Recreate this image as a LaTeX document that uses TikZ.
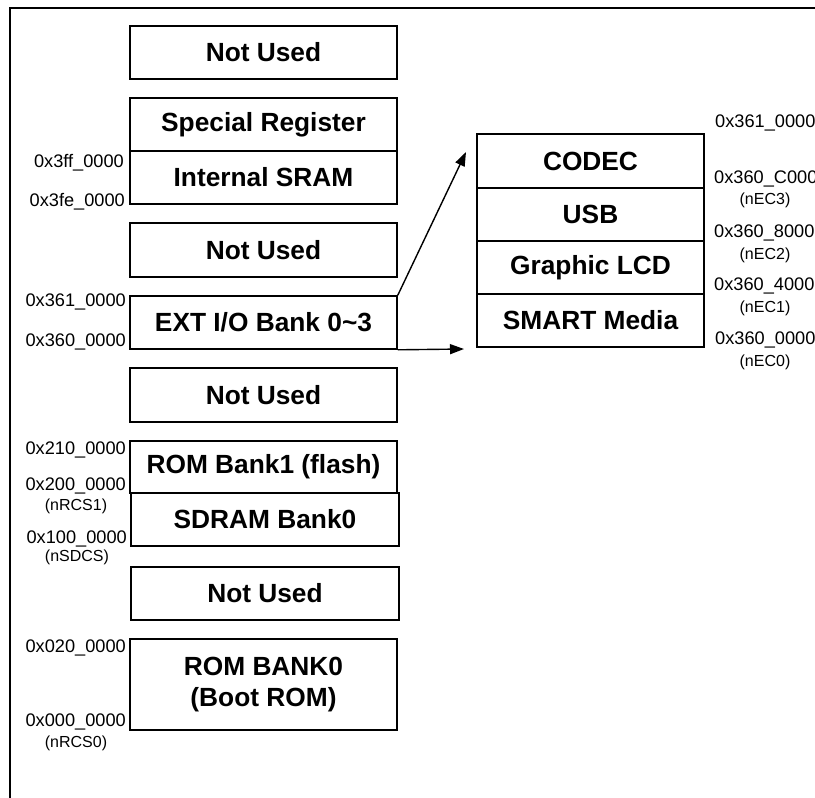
\documentclass[tikz,border=0pt]{standalone}
\usepackage{fontspec}
\setmainfont{Liberation Sans}
\usetikzlibrary{arrows.meta}
\begin{document}
\begin{tikzpicture}[x=1pt,y=-1pt,
  membox/.style={draw, line width=1.6pt, minimum width=267pt, inner sep=0pt, align=center,
    font=\fontsize{26.3}{31}\selectfont\bfseries},
  iobox/.style={draw, line width=1.6pt, minimum width=227pt, inner sep=0pt, align=center,
    font=\fontsize{26.3}{31}\selectfont\bfseries},
  addr/.style={inner sep=0pt, font=\fontsize{18.2}{20}\selectfont},
  sig/.style={inner sep=0pt, font=\fontsize{16}{18}\selectfont},
  arr/.style={line width=1.4pt, -{Triangle[length=14pt,width=10pt]}}]
\clip (0,0) rectangle (815,798);
% outer frame
\draw[line width=1.8pt] (10,8) rectangle (840,820);
% left memory map
\node[membox, minimum height=53pt] (nu1) at (263.5,52.5) {Not Used};
\node[membox, minimum height=53pt] (sr) at (263.5,124.5) {Special Register};
\node[membox, minimum height=53pt] (isram) at (263.5,177.5) {Internal SRAM};
\node[membox, minimum height=54pt] (nu2) at (263.5,250) {Not Used};
\node[membox, minimum height=53pt] (ext) at (263.5,322.5) {EXT I/O Bank 0\textasciitilde3};
\node[membox, minimum height=54pt] (nu3) at (263.5,395) {Not Used};
\node[membox, minimum height=52pt] (rb1) at (263.5,467) {ROM Bank1 (flash)};
\node[membox, minimum height=53pt, minimum width=268pt] (sd) at (265,519.5) {SDRAM Bank0};
\node[membox, minimum height=53pt, minimum width=268pt] (nu4) at (265,593.5) {Not Used};
\node[membox, minimum height=91pt] (rb0) at (263.5,684.5) {ROM BANK0\\(Boot ROM)};
% left addresses
\node[addr, anchor=east] (a1) at (124,163) {0x3ff\_0000};
\node[addr, anchor=east] (a2) at (125,202) {0x3fe\_0000};
\node[addr, anchor=east] (a3) at (126,302) {0x361\_0000};
\node[addr, anchor=east] (a4) at (126,342) {0x360\_0000};
\node[addr, anchor=east] (a5) at (126,450) {0x210\_0000};
\node[addr, anchor=east] (a6) at (126,486) {0x200\_0000};
\node[sig] (s6) at (76,506) {(nRCS1)};
\node[addr, anchor=east] (a7) at (127,539) {0x100\_0000};
\node[sig] (s7) at (77,557) {(nSDCS)};
\node[addr, anchor=east] (a8) at (126,648) {0x020\_0000};
\node[addr, anchor=east] (a9) at (126,722) {0x000\_0000};
\node[sig] (s9) at (76,743) {(nRCS0)};
% right I/O map
\node[iobox, minimum height=54pt] (codec) at (590.5,161) {CODEC};
\node[iobox, minimum height=53pt] (usb) at (590.5,214.5) {USB};
\node[iobox, minimum height=53pt] (lcd) at (590.5,267.5) {Graphic LCD};
\node[iobox, minimum height=53pt] (smart) at (590.5,320.5) {SMART Media};
% right addresses
\node[addr, anchor=west] (b1) at (715,123) {0x361\_0000};
\node[addr, anchor=west] (b2) at (714,179) {0x360\_C000};
\node[sig] (t2) at (765,200) {(nEC3)};
\node[addr, anchor=west] (b3) at (714,233) {0x360\_8000};
\node[sig] (t3) at (765,255) {(nEC2)};
\node[addr, anchor=west] (b4) at (714,286) {0x360\_4000};
\node[sig] (t4) at (765,308) {(nEC1)};
\node[addr, anchor=west] (b5) at (715,340) {0x360\_0000};
\node[sig] (t5) at (765,362) {(nEC0)};
% connectors
\coordinate (tipA) at (466,152);
\coordinate (tipB) at (464,349);
\draw[arr] (ext.north east) -- (tipA);
\draw[arr] (ext.south east) -- (tipB);
\end{tikzpicture}
\end{document}
